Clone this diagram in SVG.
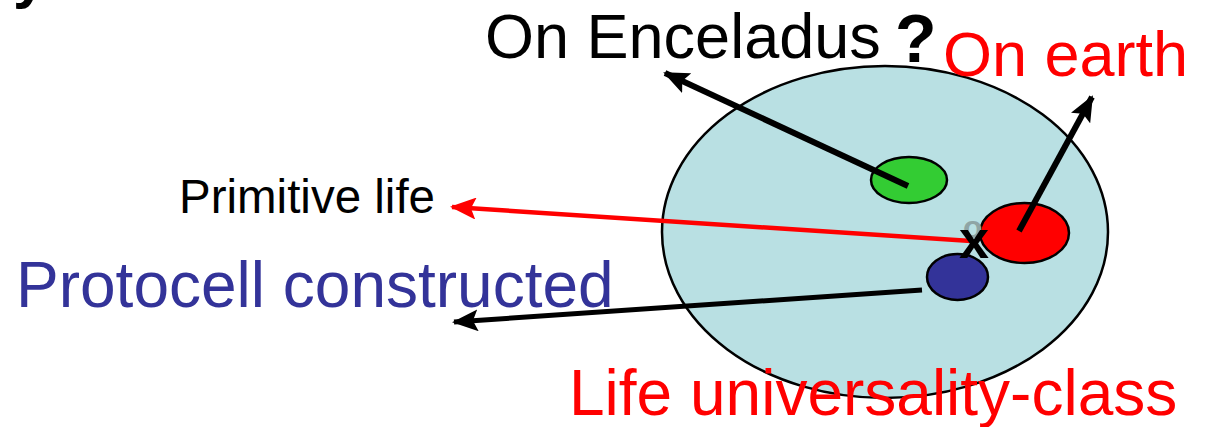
<svg xmlns="http://www.w3.org/2000/svg" width="1207" height="427" viewBox="0 0 1207 427">
  <style>
    text { font-family: "Liberation Sans", Arial, sans-serif; }
    .big { font-size: 63px; }
    .cell { stroke: #000; stroke-width: 2.5; }
  </style>
  <defs>
    <marker id="ah" viewBox="0 0 26 22" refX="24" refY="11" markerWidth="26" markerHeight="22" orient="auto" markerUnits="userSpaceOnUse">
      <path d="M0,0 L26,11 L0,22 L5,11 Z" fill="#000"/>
    </marker>
    <marker id="ahr" viewBox="0 0 26 22" refX="24" refY="11" markerWidth="26" markerHeight="22" orient="auto" markerUnits="userSpaceOnUse">
      <path d="M0,0 L26,11 L0,22 L5,11 Z" fill="#f00"/>
    </marker>
  </defs>
  <rect width="1207" height="427" fill="#fff"/>
  <text x="13" y="-3" font-size="60" font-weight="bold" fill="#000">y</text>

  <g id="universality-class">
    <ellipse cx="885" cy="232" rx="223" ry="166" fill="#b9e0e3" stroke="#000" stroke-width="2.5"/>
  </g>
  <g id="enceladus-cell">
    <ellipse class="cell" cx="909" cy="180" rx="38" ry="23" fill="#33cc33"/>
  </g>
  <g id="earth-cell">
    <ellipse class="cell" cx="1024.5" cy="233" rx="44.5" ry="30" fill="#ff0000"/>
  </g>
  <g id="protocell">
    <ellipse class="cell" cx="957.5" cy="277" rx="30.5" ry="23" fill="#333399"/>
  </g>

  <g id="connectors" fill="none">
    <line x1="908" y1="186" x2="665" y2="73" stroke="#000" stroke-width="6" marker-end="url(#ah)"/>
    <line x1="1019" y1="231" x2="1092" y2="97" stroke="#000" stroke-width="6" marker-end="url(#ah)"/>
    <line x1="971" y1="241" x2="452" y2="207" stroke="#f00" stroke-width="4.5" marker-end="url(#ahr)"/>
    <line x1="922" y1="290" x2="454" y2="322" stroke="#000" stroke-width="5" marker-end="url(#ah)"/>
  </g>

  <g id="marker-x">
    <text x="963" y="238" font-size="32" font-weight="bold" fill="#8fa5a5">o</text>
    <text x="959" y="258" font-size="54" font-weight="bold" fill="#000">x</text>
  </g>

  <g id="labels">
    <text class="big" x="485" y="58" fill="#000">On Enceladus</text>
    <text x="895" y="62" font-size="68" font-weight="bold" fill="#000">?</text>
    <text class="big" x="943" y="76" fill="#f00">On earth</text>
    <text x="179" y="213" font-size="47.5" fill="#000">Primitive life</text>
    <text x="16" y="307" font-size="64" fill="#333399">Protocell constructed</text>
    <text x="569" y="415" font-size="64" fill="#f00">Life universality-class</text>
  </g>
</svg>
